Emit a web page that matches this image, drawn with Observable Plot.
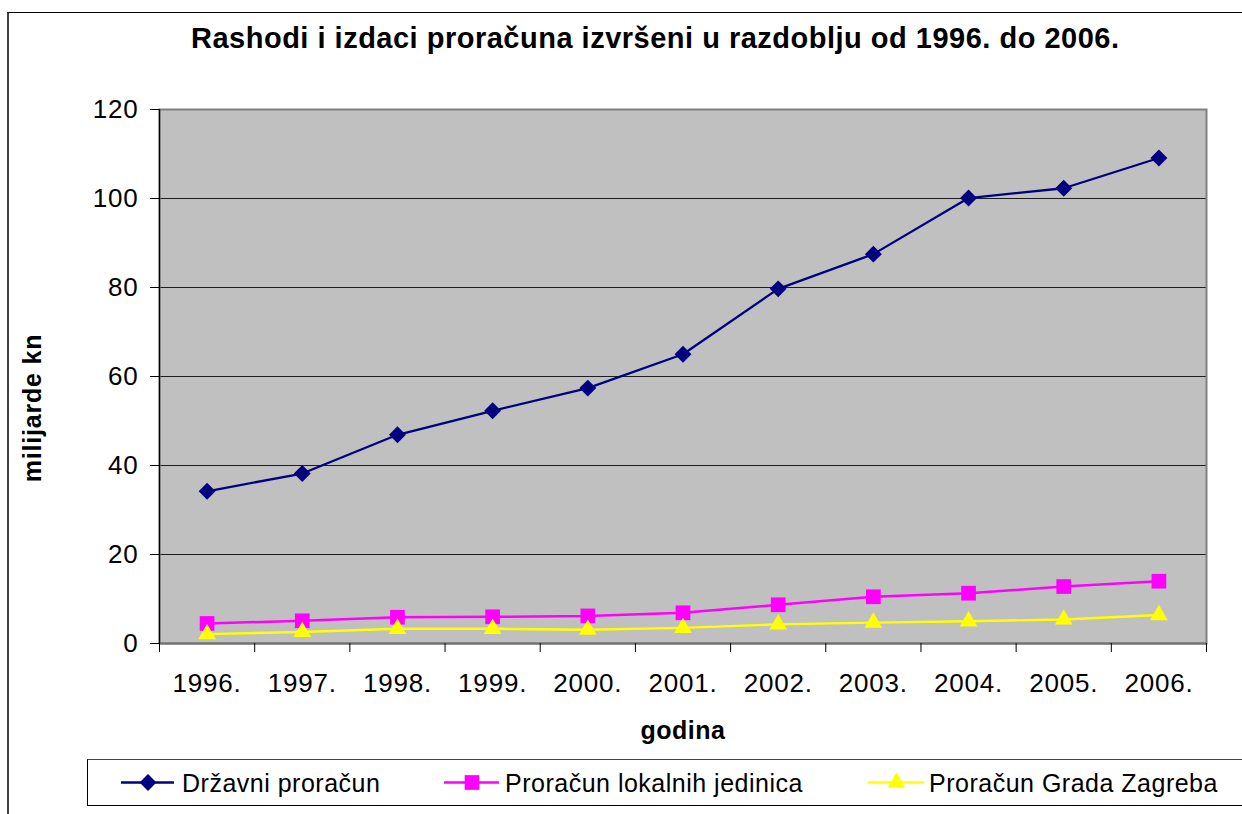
<!DOCTYPE html>
<html>
<head>
<meta charset="utf-8">
<script src="https://cdn.jsdelivr.net/npm/d3@7"></script>
<script src="https://cdn.jsdelivr.net/npm/@observablehq/plot@0.6"></script>
<style>
  html, body { margin: 0; padding: 0; background: #fff; }
  body { width: 1242px; height: 814px; overflow: hidden; position: relative; font-family: "Liberation Sans", Arial, sans-serif; color: #000; }
  #frame { position: absolute; left: 7px; top: 12px; width: 1400px; height: 900px; border-left: 2px solid #404040; border-top: 1px solid #000; box-sizing: border-box; }
  #title { position: absolute; left: 191px; top: 24px; font-weight: bold; font-size: 29px; line-height: 29px; letter-spacing: 0.5px; white-space: nowrap; }
  #ytitle { position: absolute; left: 32px; top: 408px; transform: translate(-50%, -50%) rotate(-90deg); font-weight: bold; font-size: 25px; line-height: 25px; letter-spacing: 0.8px; white-space: nowrap; }
  #chart { position: absolute; left: 0; top: 0; }
  #legend { position: absolute; left: 87px; top: 759px; width: 1300px; height: 47px; border: 1px solid #000; border-top-color: #444; box-sizing: border-box; }
  .lg-sw { position: absolute; top: 11px; }
  .lg-txt { position: absolute; top: 11px; font-size: 25px; line-height: 25px; letter-spacing: 0.5px; white-space: nowrap; }
  .chart g[aria-label="y-axis tick label"] text,
  .chart g[aria-label="x-axis tick label"] text { letter-spacing: 0.8px; }
  .chart g[aria-label="text"] text { letter-spacing: 0.5px; }
</style>
</head>
<body>
<div id="frame"></div>
<div id="chart"></div>
<div id="title"></div>
<div id="ytitle"></div>
<div id="legend"></div>
<script>
const titleText = "Rashodi i izdaci proračuna izvršeni u razdoblju od 1996. do 2006.";
const xTitle = "godina";
const yTitle = "milijarde kn";

const years = [1996, 1997, 1998, 1999, 2000, 2001, 2002, 2003, 2004, 2005, 2006];
const yearLabels = ["1996.", "1997.", "1998.", "1999.", "2000.", "2001.", "2002.", "2003.", "2004.", "2005.", "2006."];
const yTicks = [0, 20, 40, 60, 80, 100, 120];

const seriesNames = ["Državni proračun", "Proračun lokalnih jedinica", "Proračun Grada Zagreba"];
const seriesColors = ["#000080", "#FF00FF", "#FFFF00"];
const seriesSymbols = ["diamond2", "square", "triangle"];

const drzavni = [34.2, 38.2, 46.9, 52.3, 57.4, 65.0, 79.7, 87.5, 100.1, 102.3, 109.1];
const lokalni = [4.5, 5.1, 5.9, 6.0, 6.2, 6.9, 8.7, 10.5, 11.3, 12.8, 14.0];
const zagreb  = [2.1, 2.6, 3.3, 3.3, 3.1, 3.5, 4.3, 4.7, 5.0, 5.4, 6.4];

const seriesValues = [drzavni, lokalni, zagreb];
const seriesStyle = [
  { strokeWidth: 2.3, r: 7.6 },
  { strokeWidth: 2.5, r: 8.3 },
  { strokeWidth: 2.4, r: 6.6 }
];

const rows = [];
seriesNames.forEach((s, k) => {
  years.forEach((yr, i) => rows.push({ series: s, year: yr, value: seriesValues[k][i] }));
});

// category boundaries (Excel puts x ticks between categories)
const bounds = years.map(y => y - 0.5).concat([years[years.length - 1] + 0.5]);

document.getElementById("title").textContent = titleText;
document.getElementById("ytitle").textContent = yTitle;

const marks = [
  Plot.frame({ fill: "#c0c0c0" }),
  Plot.gridY(yTicks.slice(1, -1), { stroke: "#000", strokeOpacity: 0.85, strokeWidth: 1 }),
  Plot.frame({ stroke: "#808080", strokeWidth: 2 }),
  Plot.ruleY([0], { stroke: "#707070", strokeWidth: 2 }),
  Plot.ruleX([bounds[0]], { stroke: "#000", strokeWidth: 1.3 }),
  Plot.axisY(yTicks, { tickSize: 9, tickPadding: 12, fontSize: 26, label: null, stroke: "#000" }),
  Plot.axisX(bounds, { tickSize: 9, tickFormat: () => "", label: null, stroke: "#000" }),
  Plot.axisX(years, { tickSize: 0, tickPadding: 30, fontSize: 26, label: null, tickFormat: (d) => yearLabels[years.indexOf(d)] })
];

seriesNames.forEach((s, k) => {
  const data = rows.filter(d => d.series === s);
  marks.push(Plot.line(data, { x: "year", y: "value", stroke: seriesColors[k], strokeWidth: seriesStyle[k].strokeWidth }));
});
seriesNames.forEach((s, k) => {
  const data = rows.filter(d => d.series === s);
  marks.push(Plot.dot(data, { x: "year", y: "value", symbol: () => seriesSymbols[k], fill: seriesColors[k], stroke: "none", r: seriesStyle[k].r }));
});

marks.push(Plot.text([xTitle], { text: d => d, frameAnchor: "bottom", dy: 95, fontSize: 25, fontWeight: "bold", fill: "#000" }));

const chart = Plot.plot({
  width: 1242,
  height: 759,
  marginTop: 109,
  marginLeft: 159,
  marginRight: 36,
  marginBottom: 116,
  className: "chart",
  style: { fontFamily: "'Liberation Sans', Arial, sans-serif", background: "transparent", color: "#000", overflow: "visible" },
  x: { type: "linear", domain: [bounds[0], bounds[bounds.length - 1]] },
  y: { domain: [0, 120] },
  symbol: { type: "identity" },
  marks
});
document.getElementById("chart").appendChild(chart);

// legend
const legend = document.getElementById("legend");
const swLeft = [120, 443, 867];
const swWidth = [53, 55, 56];
const txtLeft = [181, 504, 928];
seriesNames.forEach((s, k) => {
  const sw = Plot.plot({
    width: swWidth[k], height: 22, margin: 0,
    x: { domain: [0, 1], axis: null }, y: { domain: [0, 1], axis: null },
    style: { background: "transparent", overflow: "visible" },
    symbol: { type: "identity" },
    marks: [
      Plot.ruleY([0.5], { stroke: seriesColors[k], strokeWidth: seriesStyle[k].strokeWidth }),
      Plot.dot([0.5], { x: d => d, y: 0.5, symbol: () => seriesSymbols[k], fill: seriesColors[k], r: seriesStyle[k].r })
    ]
  });
  sw.classList.add("lg-sw");
  sw.style.left = (swLeft[k] - 87) + "px";
  legend.appendChild(sw);
  const t = document.createElement("div");
  t.className = "lg-txt";
  t.style.left = (txtLeft[k] - 87) + "px";
  t.textContent = s;
  legend.appendChild(t);
});
</script>
</body>
</html>
